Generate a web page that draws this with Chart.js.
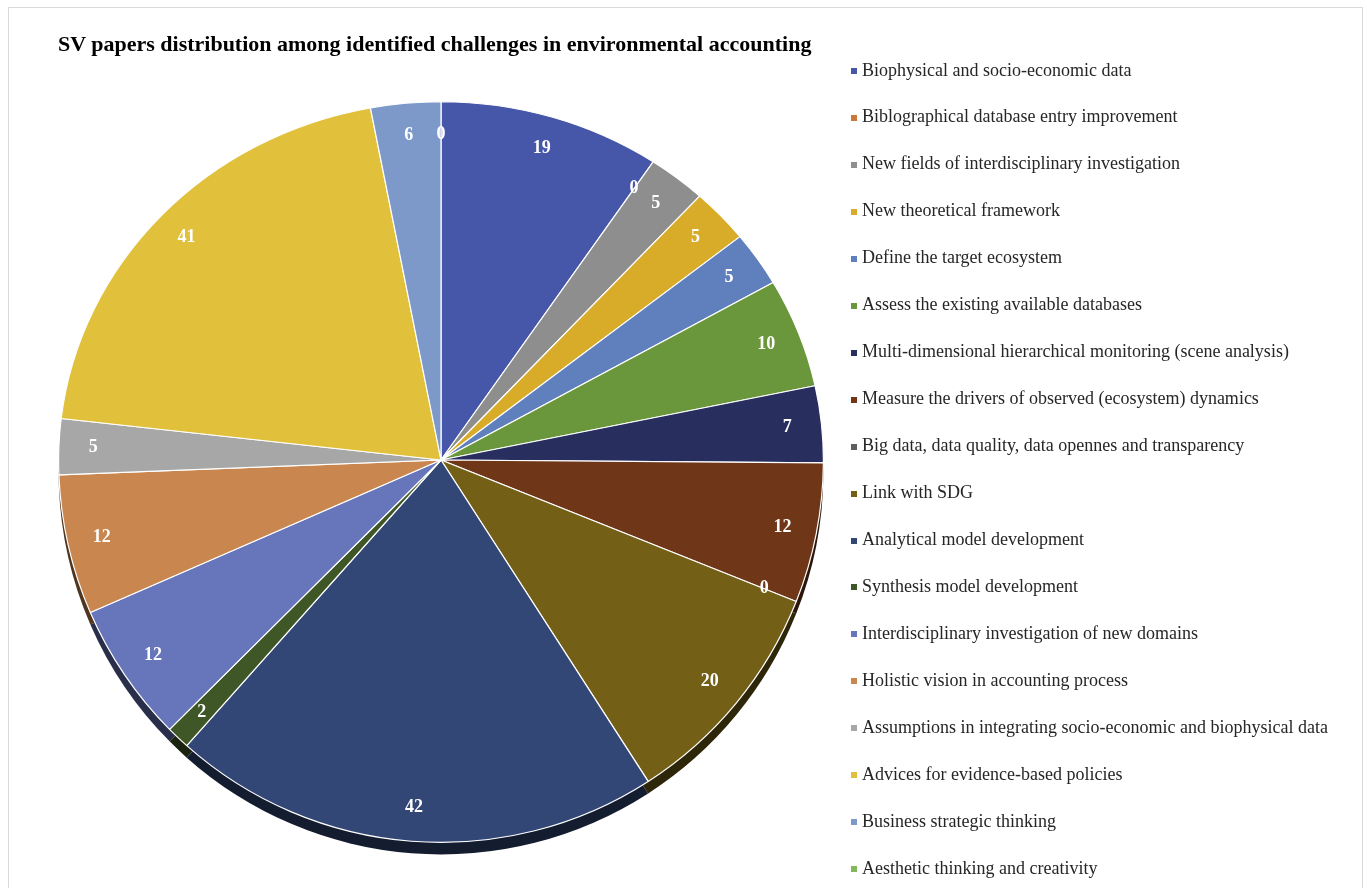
<!DOCTYPE html>
<html>
<head>
<meta charset="utf-8">
<script src="https://cdn.jsdelivr.net/npm/chart.js@4.4.1/dist/chart.umd.min.js"></script>
<style>
    html, body { margin: 0; padding: 0; overflow: hidden; background: #fff; }
    #frame {
        position: absolute; left: 8px; top: 7px; width: 1353px; height: 920px;
        border: 1px solid #d9d9d9;
    }
    #chart { position: absolute; left: 0; top: 0; }
    #title {
        position: absolute; left: 58px; top: 31px; white-space: nowrap;
        font: bold 22px "Liberation Serif", "Times New Roman", serif; color: #000;
    }
    #legend { position: absolute; left: 0; top: 0; }
    .item {
        position: absolute; left: 851px; height: 22px; white-space: nowrap;
        display: flex; align-items: center;
        font: 18px "Liberation Serif", "Times New Roman", serif; color: #262626;
    }
    .item i { display: inline-block; width: 6px; height: 6px; margin: 2px 5px 0 0; }
</style>
</head>
<body>
<div id="frame"></div>
<canvas id="chart" width="1367" height="888"></canvas>
<div id="title">SV papers distribution among identified challenges in environmental accounting</div>
<div id="legend"></div>
<script>
// Categories (clockwise from 12 o'clock)
const challenges = [
    "Biophysical and socio-economic data",
    "Biblographical database entry improvement",
    "New fields of interdisciplinary investigation",
    "New theoretical framework",
    "Define the target ecosystem",
    "Assess the existing available databases",
    "Multi-dimensional hierarchical monitoring (scene analysis)",
    "Measure the drivers of observed (ecosystem) dynamics",
    "Big data, data quality, data opennes and transparency",
    "Link with SDG",
    "Analytical model development",
    "Synthesis model development",
    "Interdisciplinary investigation of new domains",
    "Holistic vision in accounting process",
    "Assumptions in integrating socio-economic and biophysical data",
    "Advices for evidence-based policies",
    "Business strategic thinking",
    "Aesthetic thinking and creativity"
];

// Number of SV papers per challenge
const paperCounts = [19, 0, 5, 5, 5, 10, 7, 12, 0, 20, 42, 2, 12, 12, 5, 41, 6, 0];

const sliceColors = [
    "#4656a8", "#c9773b", "#8e8e8e", "#d8ac29", "#5f7fbd", "#6a973b",
    "#282f5e", "#6f3718", "#5f5f5f", "#745f17", "#334776", "#3f5726",
    "#6775bb", "#c9864f", "#a7a7a7", "#e1c13c", "#7d99ca", "#84b85c"
];

// Excel-like tilted pie: the back half is squashed, the front half has a thin side
const TOP_SCALE = 0.937;
const DEPTH = 12;

function darken(hex, f) {
    const n = parseInt(hex.slice(1), 16);
    const r = Math.round(((n >> 16) & 255) * f);
    const g = Math.round(((n >> 8) & 255) * f);
    const b = Math.round((n & 255) * f);
    return `rgb(${r},${g},${b})`;
}

const tiltedPie = {
    id: 'tiltedPie',
    beforeDatasetsDraw(chart) {
        const ctx = chart.ctx;
        const meta = chart.getDatasetMeta(0);
        const cx = meta.data[0].x;
        const cy = meta.data[0].y;

        // side of the pie, only below the front half
        ctx.save();
        ctx.beginPath();
        ctx.rect(0, cy, chart.width, chart.height - cy);
        ctx.clip();
        meta.data.forEach((arc, i) => {
            if (arc.endAngle - arc.startAngle <= 0) return;
            ctx.beginPath();
            ctx.moveTo(cx, cy + DEPTH);
            ctx.arc(cx, cy + DEPTH, arc.outerRadius, arc.startAngle, arc.endAngle);
            ctx.closePath();
            ctx.fillStyle = darken(sliceColors[i], 0.4);
            ctx.fill();
        });
        ctx.restore();

        // back half, squashed
        ctx.save();
        ctx.beginPath();
        ctx.rect(0, 0, chart.width, cy + 0.5);
        ctx.clip();
        ctx.translate(cx, cy);
        ctx.scale(1, TOP_SCALE);
        ctx.translate(-cx, -cy);
        meta.controller.draw();
        ctx.restore();

        // front half
        ctx.save();
        ctx.beginPath();
        ctx.rect(0, cy, chart.width, chart.height - cy);
        ctx.clip();
        meta.controller.draw();
        ctx.restore();
        return false;
    },
    afterDraw(chart) {
        const ctx = chart.ctx;
        const meta = chart.getDatasetMeta(0);
        ctx.save();
        ctx.font = 'bold 18px "Liberation Serif", "Times New Roman", serif';
        ctx.fillStyle = '#ffffff';
        ctx.textAlign = 'center';
        ctx.textBaseline = 'middle';
        meta.data.forEach((arc, i) => {
            const a = (arc.startAngle + arc.endAngle) / 2;
            const d = arc.outerRadius * 0.91;
            const dy = Math.sin(a) * d;
            const x = arc.x + Math.cos(a) * d;
            const y = arc.y + (dy < 0 ? dy * TOP_SCALE : dy);
            ctx.fillText(String(paperCounts[i]), x, y);
        });
        ctx.restore();
    }
};

new Chart(document.getElementById('chart'), {
    type: 'pie',
    data: {
        labels: challenges,
        datasets: [{
            data: paperCounts,
            backgroundColor: sliceColors,
            borderColor: '#ffffff',
            borderWidth: 1.2,
            hoverOffset: 0
        }]
    },
    options: {
        responsive: false,
        animation: false,
        layout: { padding: { left: 58, top: 77, right: 543, bottom: 45 } },
        plugins: {
            legend: { display: false },
            title: { display: false },
            tooltip: { enabled: false }
        }
    },
    plugins: [tiltedPie]
});

// legend on the right
const legend = document.getElementById('legend');
challenges.forEach((name, i) => {
    const row = document.createElement('div');
    row.className = 'item';
    row.style.top = (59 + i * 46.95) + 'px';
    const box = document.createElement('i');
    box.style.background = sliceColors[i];
    row.appendChild(box);
    row.appendChild(document.createTextNode(name));
    legend.appendChild(row);
});
</script>
</body>
</html>
